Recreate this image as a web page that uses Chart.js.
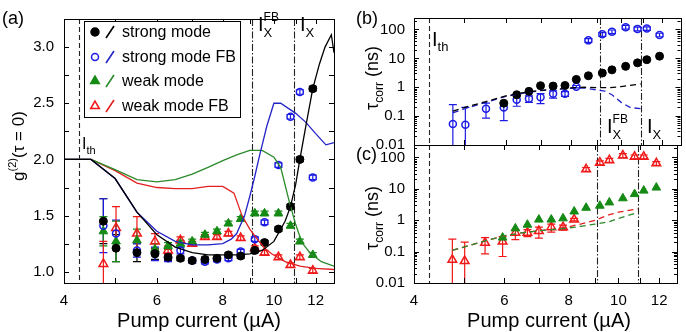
<!DOCTYPE html>
<html><head><meta charset="utf-8">
<script src="https://cdn.jsdelivr.net/npm/chart.js@4"></script>
<style>
html,body{margin:0;padding:0;background:#fff;}
#wrap{position:relative;width:686px;height:332px;}
canvas{position:absolute;left:0;top:0;}
</style></head><body>
<div id="wrap">
<canvas id="ca" width="686" height="332"></canvas>
<canvas id="cb" width="686" height="332"></canvas>
<canvas id="cc" width="686" height="332"></canvas>
</div>
<script>
// ---------------- DATA ----------------
const currents = [4.75, 5.02, 5.5, 5.95, 6.3, 6.65, 7.0, 7.4, 7.8, 8.2, 8.65, 9.2, 9.6, 10.2, 10.75, 11.2, 11.85];
// panel (a) g2(0)
const g2Strong     = [1.45, 1.21, 1.17, 1.16, 1.13, 1.12, 1.10, 1.11, 1.12, 1.15, 1.14, 1.19, 1.26, 1.38, 1.58, 2.00, 2.63];
const g2StrongErr  = [0.20, 0.12, 0.08, 0.05, 0.03, 0.02, 0.02, 0.02, 0.02, 0.02, 0.02, 0.02, 0.02, 0.02, 0.02, 0.02, 0.02];
const g2StrongFB    = [1.41, 1.34, 1.19, 1.16, 1.12, 1.19, 1.10, 1.09, 1.11, 1.12, 1.18, 1.29, 1.44, 1.95, 2.38, 2.60, 1.84];
const g2StrongFBErr = [0.24, 0.12, 0.06, 0.06, 0.03, 0.03, 0.02, 0.02, 0.02, 0.02, 0.02, 0.02, 0.02, 0.02, 0.02, 0.02, 0.02];
const g2Weak       = [1.36, 1.27, 1.28, 1.20, 1.23, 1.25, 1.27, 1.33, 1.36, 1.43, 1.47, 1.52, 1.52, 1.52, 1.41, 1.27, 1.15];
const g2WeakErr    = [0.13, 0.18, 0.10, 0.05, 0.03, 0.03, 0.02, 0.02, 0.02, 0.02, 0.02, 0.02, 0.02, 0.02, 0.02, 0.02, 0.02];
const g2WeakFB     = [1.07, 1.39, 1.34, 1.27, 1.19, 1.28, 1.25, 1.31, 1.31, 1.34, 1.30, 1.21, 1.17, 1.13, 1.06, 1.13, 1.01];
const g2WeakFBErr  = [0.20, 0.19, 0.15, 0.07, 0.04, 0.03, 0.02, 0.02, 0.02, 0.02, 0.02, 0.02, 0.02, 0.02, 0.02, 0.02, 0.02];
// panel (a) theory curves
const thStrongX = [4, 4.5, 5.0, 5.5, 6.0, 6.5, 7.0, 7.5, 8.0, 8.5, 9.0, 9.5, 10.0, 10.5, 10.75, 11.0, 11.2, 11.5, 11.85, 12.2, 12.5, 12.85, 13];
const thStrongY = [2.0, 2.0, 1.83, 1.53, 1.33, 1.22, 1.17, 1.15, 1.15, 1.15, 1.16, 1.19, 1.27, 1.45, 1.58, 1.78, 2.0, 2.3, 2.63, 2.85, 3.0, 3.11, 2.95];
const thStrongFBX = [4, 4.5, 5.0, 5.5, 6.0, 6.5, 7.0, 7.5, 8.0, 8.3, 8.5, 8.8, 9.0, 9.2, 9.4, 9.7, 10.0, 10.3, 11.0, 11.5, 12.0, 12.55, 13];
const thStrongFBY = [2.0, 2.0, 1.83, 1.53, 1.36, 1.27, 1.24, 1.24, 1.25, 1.29, 1.34, 1.5, 1.67, 1.85, 2.04, 2.3, 2.5, 2.5, 2.41, 2.33, 2.23, 2.13, 2.15];
const thWeakX = [4, 4.5, 5.0, 5.5, 6.0, 6.5, 7.0, 7.5, 8.0, 8.5, 9.0, 9.5, 10.0, 10.3, 10.7, 11.0, 11.3, 11.7, 12.3, 13];
const thWeakY = [2.0, 2.0, 1.91, 1.82, 1.80, 1.82, 1.87, 1.93, 1.99, 2.04, 2.08, 2.08, 2.02, 1.93, 1.62, 1.42, 1.26, 1.17, 1.09, 1.05];
const thWeakFBX = [4, 4.5, 5.0, 5.5, 6.0, 6.5, 7.0, 7.5, 8.0, 8.4, 8.7, 9.0, 9.3, 9.6, 9.9, 10.5, 11.2, 12.0, 13];
const thWeakFBY = [2.0, 2.0, 1.9, 1.79, 1.75, 1.74, 1.74, 1.76, 1.76, 1.70, 1.50, 1.38, 1.29, 1.21, 1.16, 1.09, 1.05, 1.03, 1.02];
// panel (b) tau_corr strong
const tauStrong     = [null, null, null, 0.28, 0.55, 0.72, 1.13, 1.1, 1.15, 1.87, 2.5, 3.1, 4.0, 5.3, 7.0, 9.0, 11.9];
const tauStrongFB   = [0.053, 0.05, 0.18, 0.2, 0.37, 0.4, 0.45, 0.6, 0.6, 1.05, 42, 68, 84, 120, 105, 108, 65];
const tauStrongFBLo = [0.001, 0.001, 0.085, 0.07, 0.22, 0.3, 0.27, 0.42, 0.48, 0.95, 36, 58, 72, 103, 90, 93, 56];
const tauStrongFBHi = [0.25, 0.2, 0.28, 0.3, 0.5, 0.5, 0.6, 0.75, 0.7, 1.15, 48, 78, 96, 138, 120, 124, 74];
const thTauStrongX   = [4.75, 5.0, 5.5, 6.0, 6.5, 7.0, 7.5, 8.0, 8.5, 9.0, 9.5, 10.0, 10.9];
const thTauStrongY   = [0.15, 0.2, 0.32, 0.5, 0.65, 0.78, 0.86, 0.95, 1.0, 0.97, 0.97, 1.05, 1.3];
const thTauStrongFBX = [4.75, 5.0, 5.5, 6.0, 6.5, 7.0, 7.5, 8.0, 8.5, 9.0, 9.3, 9.6, 10.0, 10.4, 10.9];
const thTauStrongFBY = [0.13, 0.18, 0.3, 0.48, 0.63, 0.76, 0.84, 0.92, 0.95, 0.8, 0.74, 0.55, 0.3, 0.2, 0.18];
// panel (c) tau_corr weak
const tauWeak     = [null, null, null, 0.28, 0.55, 0.72, 1.05, 1.05, 1.15, 1.9, 2.5, 2.9, 3.7, 5.0, 6.8, 8.8, 11.0];
const tauWeakFB   = [0.055, 0.05, 0.19, 0.21, 0.4, 0.4, 0.45, 0.6, 0.6, 1.05, 42, 68, 82, 115, 105, 105, 65];
const tauWeakFBLo = [0.001, 0.001, 0.085, 0.07, 0.24, 0.3, 0.27, 0.42, 0.48, 0.95, 36, 58, 70, 98, 90, 90, 56];
const tauWeakFBHi = [0.25, 0.2, 0.28, 0.3, 0.5, 0.5, 0.6, 0.75, 0.7, 1.15, 48, 78, 94, 132, 120, 120, 74];
const thTauWeakX   = [4.75, 5.0, 5.5, 6.0, 6.5, 7.0, 7.5, 8.0, 8.5, 9.0, 9.6, 10.0, 10.9];
const thTauWeakY   = [0.11, 0.14, 0.22, 0.32, 0.4, 0.46, 0.51, 0.56, 0.65, 0.75, 0.9, 1.15, 1.75];
const thTauWeakFBX = [4.75, 5.0, 5.5, 6.0, 6.5, 7.0, 7.5, 8.0, 8.5, 9.0, 9.6, 10.0, 10.9];
const thTauWeakFBY = [0.11, 0.14, 0.22, 0.32, 0.4, 0.46, 0.53, 0.62, 0.78, 1.0, 1.5, 1.8, 2.3];
// markers
const I_TH = 4.27, I_X_FB = 9.09, I_X = 10.92;
// ticks
const xTickValues = [4, 5, 6, 7, 8, 9, 10, 11, 12, 13];
const xTickLabels = [4, 6, 8, 10, 12];
const gTickValues = [1.0, 1.25, 1.5, 1.75, 2.0, 2.25, 2.5, 2.75, 3.0];
const gTickLabels = [1.0, 1.5, 2.0, 2.5, 3.0];
const tauTickLabels = [0.01, 0.1, 1, 10, 100];

// ---------------- STYLE ----------------
const FONT = "'Liberation Sans', Arial, Helvetica, sans-serif";
Chart.defaults.font.family = FONT;
Chart.defaults.color = '#000';
const BLACK = '#000000', BLUE = '#1c1ce6', GREEN = '#158a15', RED = '#f01818';
const BLUE_L = '#2323c8', GREEN_L = '#2a8a2a', RED_L = '#e22020';
const NONE = 'rgba(0,0,0,0)';

function pts(xs, ys) { return xs.map((x, i) => (ys[i] == null ? null : {x: x, y: ys[i]})).filter(p => p); }
function errSym(xs, ys, es) { return xs.map((x, i) => ys[i] == null ? null : [x, ys[i] - es[i], ys[i] + es[i]]).filter(p => p); }
function errLH(xs, lo, hi) { return xs.map((x, i) => [x, lo[i], hi[i]]); }

function drawRich(ctx, x, y, parts, opts) {
  opts = opts || {};
  ctx.save();
  ctx.translate(x, y);
  if (opts.rot) ctx.rotate(opts.rot);
  ctx.fillStyle = '#000'; ctx.textBaseline = 'alphabetic'; ctx.textAlign = 'left';
  let total = 0;
  parts.forEach(p => { ctx.font = p.s + 'px ' + FONT; p.w = ctx.measureText(p.t).width; if (!p.stay) total += p.w; });
  let cx = opts.align === 'center' ? -total / 2 : 0;
  parts.forEach(p => { ctx.font = p.s + 'px ' + FONT; ctx.fillText(p.t, cx, p.dy || 0); if (!p.stay) cx += p.w; });
  ctx.restore();
}

const xLog = (showLabels, h) => ({
  type: 'logarithmic', min: 4, max: 13,
  grid: {display: false, drawTicks: false}, border: {display: false},
  afterBuildTicks: s => { s.ticks = xTickValues.map(v => ({value: v})); },
  ticks: {display: showLabels, autoSkip: false, maxRotation: 0, minRotation: 0, padding: 9, font: {size: 15}, color: '#000',
    callback: v => (xTickLabels.includes(v) ? String(v) : '')},
  afterFit: s => { s.height = h; }
});
const yTau = (max) => ({
  type: 'logarithmic', min: 0.01, max: max,
  grid: {display: false, drawTicks: false}, border: {display: false},
  afterBuildTicks: s => { s.ticks = tauTickLabels.map(v => ({value: v})); },
  ticks: {autoSkip: false, padding: 9, font: {size: 15}, color: '#000', callback: v => String(v)},
  afterFit: s => { s.width = 64; }
});

// frame + inward ticks + vertical marker lines + error bars
const framePlugin = {
  id: 'frame',
  beforeDatasetsDraw(chart, args, o) {
    const ctx = chart.ctx, a = chart.chartArea, xs = chart.scales.x, ys = chart.scales.y;
    ctx.save();
    ctx.beginPath(); ctx.rect(a.left, a.top, a.right - a.left, a.bottom - a.top); ctx.clip();
    ctx.strokeStyle = '#222'; ctx.lineWidth = 1.1;
    (o.vlines || []).forEach(v => {
      ctx.setLineDash(v.dash);
      const px = Math.round(xs.getPixelForValue(v.x)) + 0.5;
      ctx.beginPath(); ctx.moveTo(px, a.top); ctx.lineTo(px, a.bottom); ctx.stroke();
    });
    ctx.setLineDash([]);
    (o.errors || []).forEach(e => {
      ctx.strokeStyle = e.color; ctx.lineWidth = 1.2;
      e.data.forEach(d => {
        const px = xs.getPixelForValue(d[0]);
        const lo = d[1] > (ys.min || 0) ? ys.getPixelForValue(d[1]) : a.bottom + 5;
        const hi = ys.getPixelForValue(d[2]);
        ctx.beginPath(); ctx.moveTo(px, lo); ctx.lineTo(px, hi);
        ctx.moveTo(px - 4, hi); ctx.lineTo(px + 4, hi);
        ctx.moveTo(px - 4, lo); ctx.lineTo(px + 4, lo);
        ctx.stroke();
      });
    });
    ctx.restore();
  },
  afterDraw(chart, args, o) {
    const ctx = chart.ctx, a = chart.chartArea, xs = chart.scales.x, ys = chart.scales.y;
    ctx.save();
    ctx.strokeStyle = '#000'; ctx.lineWidth = 1;
    ctx.strokeRect(Math.round(a.left) + 0.5, Math.round(a.top) + 0.5, Math.round(a.right - a.left), Math.round(a.bottom - a.top));
    ctx.beginPath();
    xTickValues.forEach(v => {
      const px = Math.round(xs.getPixelForValue(v)) + 0.5;
      if (px <= a.left + 1 || px >= a.right - 1) return;
      const L = 5;
      ctx.moveTo(px, a.bottom); ctx.lineTo(px, a.bottom - L);
      ctx.moveTo(px, a.top); ctx.lineTo(px, a.top + L);
    });
    (o.yticks || []).forEach(t => {
      const py = Math.round(ys.getPixelForValue(t[0])) + 0.5;
      if (py <= a.top + 1 || py >= a.bottom - 1) return;
      ctx.moveTo(a.left, py); ctx.lineTo(a.left + t[1], py);
      ctx.moveTo(a.right, py); ctx.lineTo(a.right - t[1], py);
    });
    ctx.stroke();
    ctx.restore();
    (o.texts || []).forEach(t => drawRich(ctx, t.x, t.y, t.parts, t));
    if (o.legend) o.legend(ctx);
  }
};

const baseOpts = {
  responsive: false, animation: false, events: [],
  plugins: {legend: {display: false}, tooltip: {enabled: false}},
};
function ds(label, data, color, style, filled, r) {
  return {
    label: label, data: data, showLine: false, pointStyle: style, pointRadius: r,
    borderColor: color, backgroundColor: filled ? color : NONE,
    pointBorderColor: color, pointBackgroundColor: filled ? color : NONE, pointBorderWidth: filled ? 1 : 1.5
  };
}
function line(label, data, color, dash) {
  return {label: label, data: data, showLine: true, pointRadius: 0, borderColor: color, backgroundColor: color,
    borderWidth: 1.3, borderDash: dash || [], tension: 0, fill: false};
}

const logMinorTicks = [];
[0.01, 0.1, 1, 10, 100].forEach(d => { for (let k = 1; k <= 9; k++) logMinorTicks.push([d * k, k === 1 ? 5 : 3]); });

function legendA(ctx) {
  ctx.save();
  ctx.fillStyle = '#fff'; ctx.fillRect(84.5, 21.5, 156, 96);
  ctx.strokeStyle = '#000'; ctx.lineWidth = 1; ctx.strokeRect(84.5, 21.5, 156, 96);
  const rows = [
    {y: 32, c: BLACK, lc: BLACK, s: 'circle', f: true, r: 4, t: 'strong mode'},
    {y: 57, c: BLUE, lc: BLUE_L, s: 'circle', f: false, r: 3.5, t: 'strong mode FB'},
    {y: 81, c: GREEN, lc: GREEN_L, s: 'triangle', f: true, r: 5, t: 'weak mode'},
    {y: 106, c: RED, lc: RED_L, s: 'triangle', f: false, r: 5, t: 'weak mode FB'}
  ];
  rows.forEach(r => {
    ctx.strokeStyle = r.c; ctx.fillStyle = r.f ? r.c : '#fff'; ctx.lineWidth = 1.5;
    Chart.helpers.drawPoint(ctx, {pointStyle: r.s, radius: r.r, borderWidth: 1.5}, 95, r.y);
    ctx.strokeStyle = r.lc; ctx.lineWidth = 1.6;
    ctx.beginPath(); ctx.moveTo(106, r.y + 6); ctx.lineTo(114, r.y - 6); ctx.stroke();
    ctx.fillStyle = '#000'; ctx.font = '16px ' + FONT; ctx.textBaseline = 'middle';
    ctx.fillText(r.t, 122, r.y + 1);
  });
  ctx.restore();
}

// ---------------- PANEL (a) ----------------
new Chart(document.getElementById('ca'), {
  type: 'scatter',
  data: {datasets: [
    line('strong theory', pts(thStrongX, thStrongY), BLACK),
    line('strong FB theory', pts(thStrongFBX, thStrongFBY), BLUE_L),
    line('weak theory', pts(thWeakX, thWeakY), GREEN_L),
    line('weak FB theory', pts(thWeakFBX, thWeakFBY), RED_L),
    ds('strong mode', pts(currents, g2Strong), BLACK, 'circle', true, 4),
    ds('strong mode FB', pts(currents, g2StrongFB), BLUE, 'circle', false, 3.5),
    ds('weak mode', pts(currents, g2Weak), GREEN, 'triangle', true, 5),
    ds('weak mode FB', pts(currents, g2WeakFB), RED, 'triangle', false, 5)
  ]},
  options: Object.assign({}, baseOpts, {
    layout: {padding: {left: 0, top: 9, right: 352, bottom: 0}},
    scales: {
      x: xLog(true, 49),
      y: {min: 0.9, max: 3.25, grid: {display: false, drawTicks: false}, border: {display: false},
        afterBuildTicks: s => { s.ticks = gTickLabels.map(v => ({value: v})); },
        ticks: {autoSkip: false, padding: 10, font: {size: 15}, color: '#000', callback: v => v.toFixed(1)},
        afterFit: s => { s.width = 64; }}
    },
    plugins: Object.assign({}, baseOpts.plugins, {frame: {
      vlines: [{x: I_TH, dash: [5, 3]}, {x: I_X_FB, dash: [7, 2, 1.5, 2]}, {x: I_X, dash: [7, 2, 1.5, 2]}],
      errors: [
        {color: BLACK, data: errSym(currents, g2Strong, g2StrongErr)},
        {color: BLUE, data: errSym(currents, g2StrongFB, g2StrongFBErr)},
        {color: GREEN, data: errSym(currents, g2Weak, g2WeakErr)},
        {color: RED, data: errSym(currents, g2WeakFB, g2WeakFBErr)}
      ],
      yticks: gTickValues.map(v => [v, 5]),
      texts: [
        {x: 2, y: 24, parts: [{t: '(a)', s: 18}]},
        {x: 199, y: 327, align: 'center', parts: [{t: 'Pump current (\u00B5A)', s: 20}]},
        {x: 24, y: 146, align: 'center', rot: -Math.PI / 2, parts: [{t: 'g', s: 17}, {t: '(2)', s: 11, dy: -8}, {t: '(\u03C4 = 0)', s: 17}]},
        {x: 82, y: 149, parts: [{t: 'I', s: 16}, {t: 'th', s: 11, dy: 5}]},
        {x: 258, y: 31, parts: [{t: 'I', s: 20}, {t: 'X', s: 13, dy: 6, stay: true}, {t: 'FB', s: 12, dy: -10}]},
        {x: 300, y: 31, parts: [{t: 'I', s: 20}, {t: 'X', s: 13, dy: 6}]}
      ],
      legend: legendA
    }})
  }),
  plugins: [framePlugin]
});

// ---------------- PANEL (b) ----------------
new Chart(document.getElementById('cb'), {
  type: 'scatter',
  data: {datasets: [
    line('strong theory', pts(thTauStrongX, thTauStrongY), BLACK, [6, 4]),
    line('strong FB theory', pts(thTauStrongFBX, thTauStrongFBY), BLUE_L, [6, 4]),
    ds('strong mode', pts(currents, tauStrong), BLACK, 'circle', true, 4),
    ds('strong mode FB', pts(currents, tauStrongFB), BLUE, 'circle', false, 3.5)
  ]},
  options: Object.assign({}, baseOpts, {
    layout: {padding: {left: 350, top: 9, right: 2, bottom: 0}},
    scales: {x: xLog(false, 187), y: yTau(250)},
    plugins: Object.assign({}, baseOpts.plugins, {frame: {
      vlines: [{x: I_TH, dash: [5, 3]}, {x: I_X_FB, dash: [7, 2, 1.5, 2]}, {x: I_X, dash: [7, 2, 1.5, 2]}],
      errors: [{color: BLUE, data: errLH(currents, tauStrongFBLo, tauStrongFBHi)}],
      yticks: logMinorTicks,
      texts: [
        {x: 356, y: 24, parts: [{t: '(b)', s: 18}]},
        {x: 378, y: 78, align: 'center', rot: -Math.PI / 2, parts: [{t: '\u03C4', s: 18}, {t: 'corr', s: 12, dy: 5}, {t: ' (ns)', s: 18}]},
        {x: 432, y: 46, parts: [{t: 'I', s: 20}, {t: 'th', s: 13, dy: 5}]},
        {x: 607, y: 133, parts: [{t: 'I', s: 20}, {t: 'X', s: 13, dy: 6, stay: true}, {t: 'FB', s: 12, dy: -10}]},
        {x: 647, y: 133, parts: [{t: 'I', s: 20}, {t: 'X', s: 13, dy: 6}]}
      ]
    }})
  }),
  plugins: [framePlugin]
});

// ---------------- PANEL (c) ----------------
new Chart(document.getElementById('cc'), {
  type: 'scatter',
  data: {datasets: [
    line('weak theory', pts(thTauWeakX, thTauWeakY), GREEN_L, [6, 4]),
    line('weak FB theory', pts(thTauWeakFBX, thTauWeakFBY), RED_L, [6, 4]),
    ds('weak mode', pts(currents, tauWeak), GREEN, 'triangle', true, 5),
    ds('weak mode FB', pts(currents, tauWeakFB), RED, 'triangle', false, 5)
  ]},
  options: Object.assign({}, baseOpts, {
    layout: {padding: {left: 350, top: 145, right: 2, bottom: 0}},
    scales: {x: xLog(true, 49), y: yTau(250)},
    plugins: Object.assign({}, baseOpts.plugins, {frame: {
      vlines: [{x: I_TH, dash: [5, 3]}, {x: I_X_FB, dash: [7, 2, 1.5, 2]}, {x: I_X, dash: [7, 2, 1.5, 2]}],
      errors: [{color: RED, data: errLH(currents, tauWeakFBLo, tauWeakFBHi)}],
      yticks: logMinorTicks,
      texts: [
        {x: 356, y: 160, parts: [{t: '(c)', s: 18}]},
        {x: 378, y: 218, align: 'center', rot: -Math.PI / 2, parts: [{t: '\u03C4', s: 18}, {t: 'corr', s: 12, dy: 5}, {t: ' (ns)', s: 18}]},
        {x: 549, y: 327, align: 'center', parts: [{t: 'Pump current (\u00B5A)', s: 20}]}
      ]
    }})
  }),
  plugins: [framePlugin]
});
</script>
</body></html>
